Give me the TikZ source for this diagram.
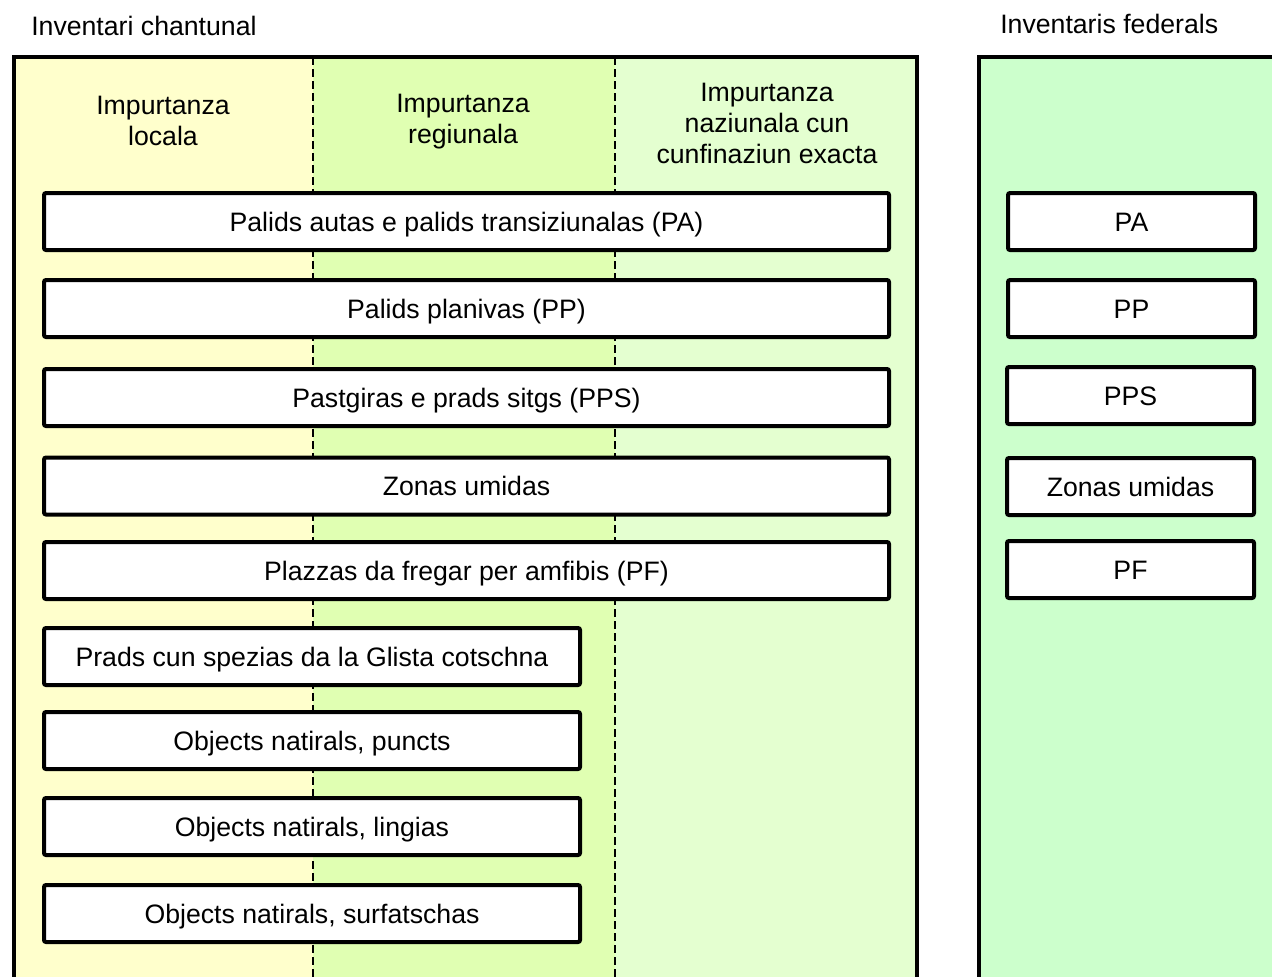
\documentclass[tikz,border=0pt]{standalone}
\usepackage{fontspec}
\setmainfont{Liberation Sans}
\definecolor{colLocal}{HTML}{FFFFCC}
\definecolor{colRegio}{HTML}{E0FFB2}
\definecolor{colNaz}{HTML}{E4FFD0}
\definecolor{colFed}{HTML}{CCFFCC}
\tikzset{
  invbox/.style={draw=black, line width=3pt, rounded corners=1.5pt, fill=white, inner sep=0pt,
    minimum height=42.75pt, text height=14.3pt, text depth=0pt, font=\fontsize{20}{24}\selectfont},
  widebox/.style={invbox, minimum width=633.75pt},
  shortbox/.style={invbox, minimum width=402pt},
  fedbox/.style={invbox, minimum width=185.25pt},
  colhead/.style={align=center, inner sep=0pt, font=\fontsize{20}{23.25}\selectfont},
  title/.style={anchor=west, inner sep=0pt, font=\fontsize{20}{24}\selectfont},
  frame/.style={line width=3.2pt},
  coldiv/.style={line width=1.5pt, dash pattern=on 6pt off 3pt}
}
\begin{document}
\begin{tikzpicture}[x=0.75pt,y=0.75pt,yscale=-1,xscale=1]
\useasboundingbox (0,0) rectangle (1272,976);

% Titles
\node[title] (tchant) at (31,26) {Inventari chantunal};
\node[title] (tfed) at (1000,24) {Inventaris federals};

% Cantonal frame: three columns
\fill[colLocal] (14,57) rectangle (313,995);
\fill[colRegio] (313,57) rectangle (615,995);
\fill[colNaz] (615,57) rectangle (917,995);
\draw[coldiv] (313,57) -- (313,995);
\draw[coldiv] (615,57) -- (615,995);
\draw[frame] (14,995) -- (14,57) -- (917,57) -- (917,995);

% Federal frame
\fill[colFed] (979,57) rectangle (1295,995);
\draw[frame] (979,995) -- (979,57) -- (1295,57);

% Column heads
\node[colhead] (hlocal) at (163,121) {Impurtanza\\locala};
\node[colhead] (hregio) at (463,122) {Impurtanza\\regiunala};
\node[colhead] (hnaz) at (767,123) {Impurtanza\\naziunala cun\\cunfinaziun exacta};

% Cantonal inventories
\node[widebox] (cPA) at (466.5,221.5) {Palids autas e palids transiziunalas (PA)};
\node[widebox] (cPP) at (466.5,308.5) {Palids planivas (PP)};
\node[widebox] (cPPS) at (466.5,397.5) {Pastgiras e prads sitgs (PPS)};
\node[widebox] (cZU) at (466.5,486) {Zonas umidas};
\node[widebox] (cPF) at (466.5,570.5) {Plazzas da fregar per amfibis (PF)};
\node[shortbox] (cGlista) at (312,656.5) {Prads cun spezias da la Glista cotschna};
\node[shortbox] (cPuncts) at (312,740.5) {Objects natirals, puncts};
\node[shortbox] (cLingias) at (312,826.5) {Objects natirals, lingias};
\node[shortbox] (cSurf) at (312,913.5) {Objects natirals, surfatschas};

% Federal inventories
\node[fedbox] (fPA) at (1131.5,221.5) {PA};
\node[fedbox] (fPP) at (1131.5,308.5) {PP};
\node[fedbox] (fPPS) at (1130.5,395.5) {PPS};
\node[fedbox] (fZU) at (1130.5,486.5) {Zonas umidas};
\node[fedbox] (fPF) at (1130.5,569.5) {PF};

\end{tikzpicture}
\end{document}
